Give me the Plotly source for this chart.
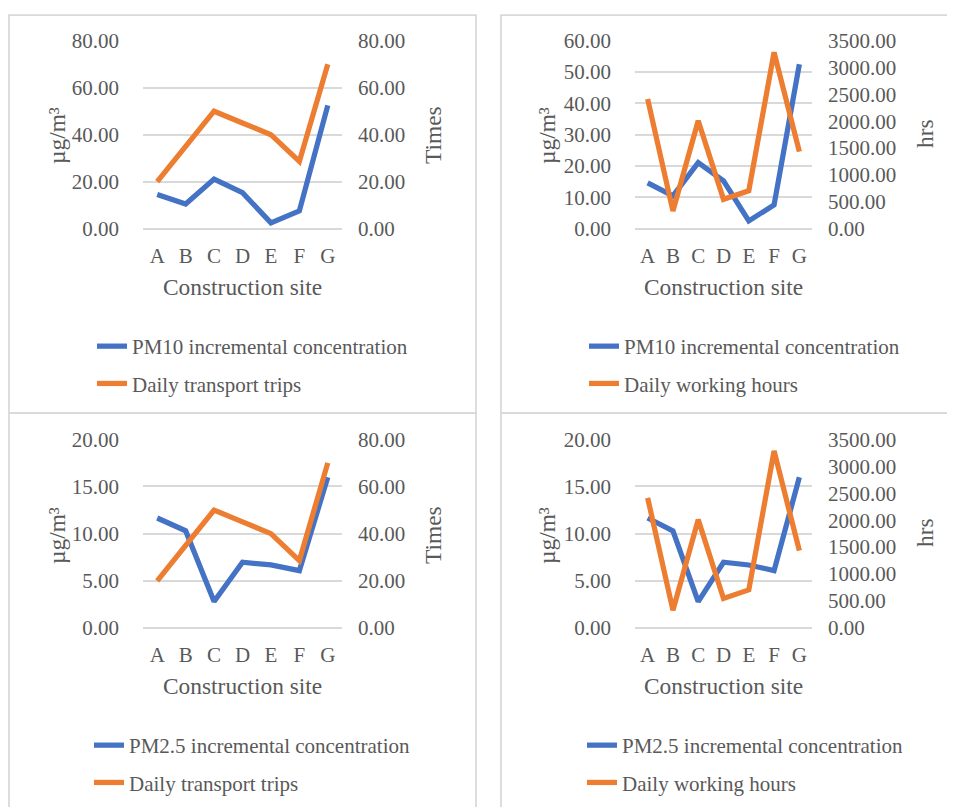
import plotly.graph_objects as go

sites = ["A", "B", "C", "D", "E", "F", "G"]
pm10 = [14.6, 10.5, 21.1, 15.3, 2.5, 7.6, 52.5]
pm25 = [11.66, 10.3, 2.8, 6.97, 6.68, 6.08, 15.98]
trips = [20, 35, 50, 45, 40, 28.6, 70]
hours = [2415, 330, 2010, 547, 707, 3284, 1434]

# the page body has an 8px margin, so the figure is 8px smaller than the window
OFF = 8
W, H = 955 - OFF, 807 - OFF
FONT = "Liberation Serif, Times New Roman, serif"
GREY = "#595959"
GRID = "#d9d9d9"
BLUE = "#4472C4"
ORANGE = "#ED7D31"
TICK = 21
TITLE = 23.4

def px(x):
    return (x - OFF) / W

def py(y):
    return 1 - (y - OFF) / H

fig = go.Figure()

panels = [
    ("x", "y", "y2", pm10, trips, ("PM10 incremental concentration", "Daily transport trips"), 80, 20, 80, 20, "Times", "legend", (143, 342, 40.7, 228.7)),
    ("x2", "y3", "y4", pm10, hours, ("PM10 incremental concentration", "Daily working hours"), 60, 10, 3500, 500, "hrs", "legend2", (635, 812, 40.7, 228.7)),
    ("x3", "y5", "y6", pm25, trips, ("PM2.5 incremental concentration", "Daily transport trips"), 20, 5, 80, 20, "Times", "legend3", (143, 342, 439.3, 628)),
    ("x4", "y7", "y8", pm25, hours, ("PM2.5 incremental concentration", "Daily working hours"), 20, 5, 3500, 500, "hrs", "legend4", (635, 812, 439.3, 628)),
]

# axis title centres in window pixels: (x-title x, y), (left title x, y), (right title x, y)
title_pos = [
    ((242, 287), (57, 136), (433, 135)),
    ((723, 287), (547, 136), (925, 134)),
    ((242, 686), (57, 536), (433, 535)),
    ((723, 686), (547, 536), (925, 533)),
]

layout = dict(
    width=W, height=H,
    margin=dict(l=0, r=0, t=0, b=0, autoexpand=False),
    paper_bgcolor="white", plot_bgcolor="white",
    font=dict(family=FONT, color=GREY, size=TICK),
    showlegend=True,
)

# (left x of legend, top y of legend) in window pixels
legend_pos = {
    "legend": (92, 326),
    "legend2": (584, 326),
    "legend3": (89, 725),
    "legend4": (582, 725),
}

annotations = []
for i, (xa, yl, yr, ls, rs, names, lmax, ldt, rmax, rdt, rtitle, lg, box) in enumerate(panels):
    x0, x1, ytop, ybot = box
    fig.add_trace(go.Scatter(x=sites, y=ls, name=names[0], mode="lines",
                             line=dict(color=BLUE, width=5.25), xaxis=xa, yaxis=yl,
                             legend=lg, legendgroup=f"a{i}"))
    fig.add_trace(go.Scatter(x=sites, y=rs, name=names[1], mode="lines",
                             line=dict(color=ORANGE, width=5.25), xaxis=xa, yaxis=yr,
                             legend=lg, legendgroup=f"b{i}"))
    xkey = "xaxis" + xa[1:]
    ylkey = "yaxis" + yl[1:]
    yrkey = "yaxis" + yr[1:]
    layout[xkey] = dict(
        domain=[px(x0), px(x1)], anchor=yl, type="category",
        range=[-0.5, 6.5], showgrid=False, zeroline=False, showline=False,
        ticks="", ticklabelstandoff=12, automargin=False,
        tickfont=dict(size=TICK, color=GREY, family=FONT),
    )
    layout[ylkey] = dict(
        domain=[py(ybot), py(ytop)], anchor=xa, range=[0, lmax], dtick=ldt,
        tickformat=".2f", showgrid=True, gridcolor=GRID, gridwidth=1.75,
        zeroline=True, zerolinecolor=GRID, zerolinewidth=1.75, showline=False,
        ticks="", ticklabelstandoff=23, automargin=False,
        tickfont=dict(size=TICK, color=GREY, family=FONT),
    )
    layout[yrkey] = dict(
        domain=[py(ybot), py(ytop)], anchor=xa, overlaying=yl, side="right",
        range=[0, rmax], dtick=rdt, tickformat=".2f", showgrid=False,
        zeroline=False, showline=False, ticks="", ticklabelstandoff=15, automargin=False,
        tickfont=dict(size=TICK, color=GREY, family=FONT),
    )
    lx, ly = legend_pos[lg]
    layout[lg] = dict(
        x=px(lx), y=py(ly), xref="container", yref="container",
        xanchor="left", yanchor="top",
        bgcolor="rgba(0,0,0,0)", borderwidth=0,
        font=dict(size=TICK, color=GREY, family=FONT),
        tracegroupgap=7, traceorder="grouped",
    )
    (tx, ty), (lx_, ly_), (rx_, ry_) = title_pos[i]
    tfont = dict(size=TITLE, color=GREY, family=FONT)
    annotations.append(dict(text="Construction site", x=px(tx), y=py(ty), xref="paper", yref="paper",
                            xanchor="center", yanchor="middle", showarrow=False, font=tfont))
    annotations.append(dict(text="µg/m³", x=px(lx_), y=py(ly_), xref="paper", yref="paper",
                            xanchor="center", yanchor="middle", showarrow=False, font=tfont, textangle=-90))
    annotations.append(dict(text=rtitle, x=px(rx_), y=py(ry_), xref="paper", yref="paper",
                            xanchor="center", yanchor="middle", showarrow=False, font=tfont, textangle=-90))

layout["annotations"] = annotations
fig.update_layout(**layout)

boxes = [(9, 476, 15, 413), (501, 960, 15, 413), (9, 476, 413, 812), (501, 960, 413, 812)]
for (bx0, bx1, by0, by1) in boxes:
    fig.add_shape(type="rect", xref="paper", yref="paper",
                  x0=px(bx0), x1=px(bx1), y0=py(by1), y1=py(by0),
                  line=dict(color=GRID, width=1.75), fillcolor="rgba(0,0,0,0)", layer="below")

fig.write_html("out.html")
